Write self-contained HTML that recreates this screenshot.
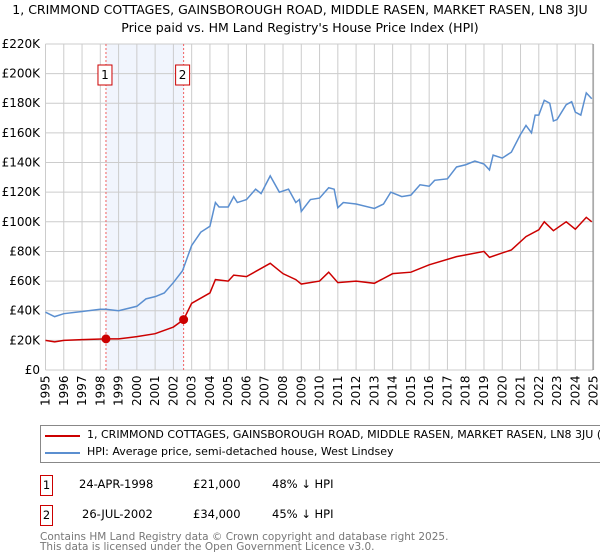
<!DOCTYPE html>
<html><head><meta charset="utf-8"><style>
body{margin:0;width:600px;height:560px;background:#fff;font-family:"DejaVu Sans","Liberation Sans",sans-serif;overflow:hidden;position:relative}
#wrap{position:absolute;left:0;top:0;width:600px;height:560px;overflow:hidden}
.t{position:absolute;white-space:nowrap}
</style></head><body>
<div id="wrap">
<svg width="600" height="560" style="position:absolute;left:0;top:0;font-family:'DejaVu Sans',sans-serif">
<g id="g"></g>
</svg>
<script>
const years=[1995,1996,1997,1998,1999,2000,2001,2002,2003,2004,2005,2006,2007,2008,2009,2010,2011,2012,2013,2014,2015,2016,2017,2018,2019,2020,2021,2022,2023,2024,2025];
const yTicks=[0,20,40,60,80,100,120,140,160,180,200,220];
const hpiT=[1995,1995.5,1996,1997,1998,1998.3,1999,2000,2000.5,2001,2001.5,2002,2002.5,2003,2003.5,2004,2004.3,2004.5,2005,2005.3,2005.5,2006,2006.5,2006.8,2007.3,2007.8,2008.3,2008.7,2008.9,2009.0,2009.5,2010,2010.5,2010.8,2011,2011.3,2012,2013,2013.5,2013.9,2014.5,2015,2015.5,2016,2016.3,2017,2017.5,2018,2018.5,2019,2019.3,2019.5,2020,2020.5,2021,2021.3,2021.6,2021.8,2022,2022.3,2022.6,2022.8,2023,2023.5,2023.8,2024,2024.3,2024.6,2024.9];
const hpiV=[39,36,38,39.5,41,41,40,43,48,49.5,52,59,67,84,93,97,113,110,110,117,113,115,122,119,131,120,122,113,115,107,115,116,123,122,109.5,113,112,109,112,120,117,118,125,124,128,129,137,138.5,141,139,135,145,143,147,159,165,160,172,172,182,180,168,169,179,181,174,172,187,183];
const redT=[1995,1995.5,1996,1997,1998.31,1999,2000,2001,2002,2002.56,2003,2004,2004.3,2005,2005.3,2006,2007.3,2008,2008.7,2009.0,2010,2010.5,2011,2012,2013,2014,2015,2016,2017.5,2019,2019.3,2020,2020.5,2021.3,2022,2022.3,2022.8,2023.5,2024,2024.6,2024.9];
const redV=[20,19,20,20.5,21,21,22.5,24.5,29,34,45,52,61,60,64,63,72,65,61,58,60,66,59,60,58.5,65,66,71,76.5,80,76,79,81,90,94.6,100,94,100,95,103,100];
const sales=[[1998.31,21,'1'],[2002.56,34,'2']];
const X=y=>45.5+(y-1995)*18.27, Y=v=>370-v*1.482;
const g=document.getElementById('g');const NS='http://www.w3.org/2000/svg';
function mk(t,a){const e=document.createElementNS(NS,t);for(const k in a)e.setAttribute(k,a[k]);g.appendChild(e);return e;}
let e=mk('rect',{x:X(1998.31),y:44,width:X(2002.56)-X(1998.31),height:326,fill:'#eef3fd',opacity:0.8});


years.forEach(yr=>{let l=mk('line',{x1:X(yr),x2:X(yr),y1:44,y2:370,stroke:'#ccc'});


let t=mk('text',{x:0,y:0,'font-size':12,transform:`translate(${X(yr)+4},${406}) rotate(-90)`});t.textContent=yr;

});
yTicks.forEach(v=>{let l=mk('line',{x1:45.5,x2:593,y1:Y(v),y2:Y(v),stroke:'#ccc'});


let t=mk('text',{x:40,y:Y(v)+4,'font-size':12,'text-anchor':'end'});t.textContent='£'+(v?v+'K':'0');

});
e=mk('line',{x1:593,x2:593,y1:44,y2:370,stroke:'#888'});


sales.forEach(s=>{let l=mk('line',{x1:X(s[0]),x2:X(s[0]),y1:44,y2:370,stroke:'#f06060','stroke-dasharray':'2,2'});


let r=mk('rect',{x:X(s[0])-8,y:65,width:14,height:20,fill:'#fff',stroke:'#c00'});


let t=mk('text',{x:X(s[0])-1,y:79,'font-size':12,'text-anchor':'middle'});t.textContent=s[2];

});
e=mk('polyline',{points:hpiT.map((t,i)=>X(t)+','+Y(hpiV[i])).join(' '),fill:'none',stroke:'#5b8fd0','stroke-width':1.5});


e=mk('polyline',{points:redT.map((t,i)=>X(t)+','+Y(redV[i])).join(' '),fill:'none',stroke:'#cc0000','stroke-width':1.5});


sales.forEach(s=>{let c=mk('circle',{cx:X(s[0]),cy:Y(s[1]),r:4.5,fill:'#cc0000'});

});
</script>
<div class="t" style="left:-100px;width:800px;text-align:center;top:1px;font-size:12.5px;line-height:18px">1, CRIMMOND COTTAGES, GAINSBOROUGH ROAD, MIDDLE RASEN, MARKET RASEN, LN8 3JU<br>Price paid vs. HM Land Registry's House Price Index (HPI)</div>
<div style="position:absolute;left:40px;top:425px;width:580px;height:36px;border:1px solid #888">
<div style="position:absolute;left:4px;top:9px;width:35px;height:2px;background:#cc0000"></div>
<div class="t" style="left:46px;top:2px;font-size:11px">1, CRIMMOND COTTAGES, GAINSBOROUGH ROAD, MIDDLE RASEN, MARKET RASEN, LN8 3JU (semi-detached house)</div>
<div style="position:absolute;left:4px;top:26px;width:35px;height:2px;background:#5b8fd0"></div>
<div class="t" style="left:46px;top:19px;font-size:11px">HPI: Average price, semi-detached house, West Lindsey</div>
</div>
<div>
<div class="t" style="left:40px;top:475px;width:11px;height:19px;border:1px solid #c00;font-size:11.5px;text-align:center;line-height:19px">1</div>
<div class="t" style="left:79px;top:477px;font-size:11.5px">24-APR-1998</div>
<div class="t" style="left:193px;top:477px;font-size:11.5px">£21,000</div>
<div class="t" style="left:272px;top:477px;font-size:11.5px">48% ↓ HPI</div></div>
<div>
<div class="t" style="left:40px;top:505px;width:11px;height:19px;border:1px solid #c00;font-size:11.5px;text-align:center;line-height:19px">2</div>
<div class="t" style="left:82px;top:507px;font-size:11.5px">26-JUL-2002</div>
<div class="t" style="left:193px;top:507px;font-size:11.5px">£34,000</div>
<div class="t" style="left:272px;top:507px;font-size:11.5px">45% ↓ HPI</div></div>
<div class="t" style="left:40px;top:532px;font-size:10.5px;line-height:10px;color:#777">Contains HM Land Registry data © Crown copyright and database right 2025.<br>This data is licensed under the Open Government Licence v3.0.</div>
</div>
</body></html>
